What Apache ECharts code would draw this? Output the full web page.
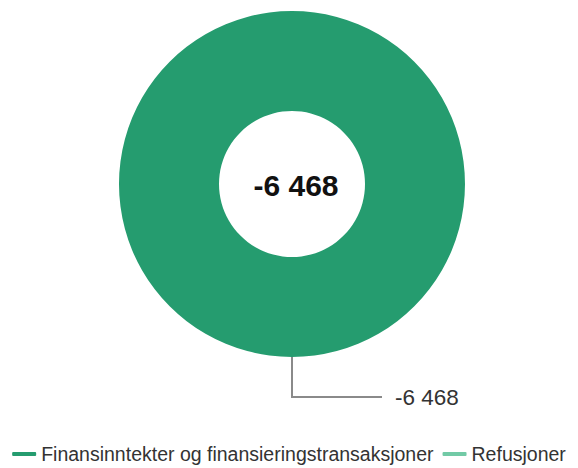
<!DOCTYPE html>
<html>
<head>
<meta charset="utf-8">
<script src="https://cdn.jsdelivr.net/npm/echarts@6/dist/echarts.min.js"></script>
<style>
  html, body { margin: 0; padding: 0; background: #fff; }
  #chart { width: 578px; height: 468px; }
</style>
</head>
<body>
<div id="chart"></div>
<script>
const categories = ['Finansinntekter og finansieringstransaksjoner', 'Refusjoner']
const values = [-6468, null]
const colors = ['#259c6f', '#72caa6']
const total = -6468

function fmt(v) {
  const s = String(Math.abs(v)).replace(/\B(?=(\d{3})+(?!\d))/g, ' ')
  return (v < 0 ? '-' : '') + s
}

const chart = echarts.init(document.getElementById('chart'), null, { renderer: 'svg' })
chart.setOption({
  animation: false,
  color: colors,
  title: {
    text: fmt(total),
    left: 291,
    top: 180,
    textAlign: 'center',
    textVerticalAlign: 'middle',
    textStyle: {
      fontFamily: 'Liberation Sans',
      fontSize: 30,
      fontWeight: 'bold',
      color: '#111'
    }
  },
  legend: {
    top: 439,
    left: 'center',
    itemWidth: 24,
    itemHeight: 4,
    itemGap: 9,
    icon: 'roundRect',
    textStyle: {
      fontFamily: 'Liberation Sans',
      fontSize: 19.5,
      color: '#333'
    },
    data: categories
  },
  series: [
    {
      type: 'pie',
      center: [292, 184],
      radius: [73, 173],
      startAngle: 90,
      avoidLabelOverlap: false,
      // pie can't draw negative sizes: slice uses the magnitude, label keeps the sign
      data: categories.map((name, i) => ({
        name,
        value: values[i] === null ? '-' : Math.abs(values[i]),
        raw: values[i]
      })),
      label: {
        show: true,
        formatter: p => fmt(p.data.raw),
        fontFamily: 'Liberation Sans',
        fontSize: 22.5,
        color: '#333',
        distanceToLabelLine: 13
      },
      labelLine: {
        show: true,
        length: 40,
        length2: 90,
        lineStyle: { color: '#8a8a8a', width: 2 }
      }
    }
  ]
})
</script>
</body>
</html>
